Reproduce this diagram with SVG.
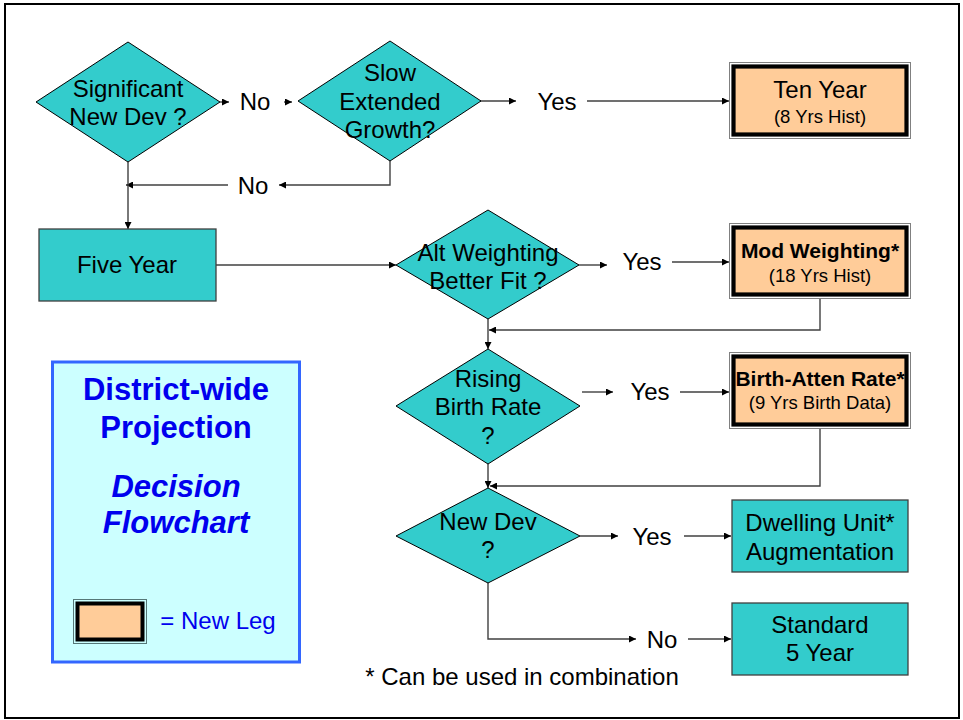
<svg xmlns="http://www.w3.org/2000/svg" width="963" height="720" viewBox="0 0 963 720">
<defs>
<marker id="ah" viewBox="0 0 10 10" refX="10" refY="5" markerWidth="8" markerHeight="7" markerUnits="userSpaceOnUse" orient="auto">
<path d="M0,0 L10,5 L0,10 Z" fill="#000"/>
</marker>
<style>
text{font-family:"Liberation Sans",Arial,sans-serif;fill:#000;text-anchor:middle}
.t{font-size:24px}
.b{font-size:21px;font-weight:bold}
.s{font-size:18.5px}
.dia{fill:#33CCCC;stroke:#000;stroke-width:1}
.box{fill:#33CCCC;stroke:#404040;stroke-width:1.3}
.og{fill:none;stroke:#808080;stroke-width:1}
.ob{fill:#FFCC99;stroke:#000;stroke-width:4.2}
.c{fill:none;stroke:#404040;stroke-width:1.4;marker-end:url(#ah)}
.lg{fill:#0000EE;font-size:31px;font-weight:bold}
</style>
</defs>
<rect x="0" y="0" width="963" height="720" fill="#fff"/>
<rect id="frame" x="5" y="4" width="954" height="714" fill="#fff" stroke="#000" stroke-width="2"/>

<g id="connectors">
<path class="c" d="M220,102 L229,102"/>
<path class="c" d="M284,102 L292,102"/>
<path class="c" d="M480,101 L516,101"/>
<path class="c" d="M587,101 L729,101"/>
<path class="c" d="M390,161 L390,185 L279,185"/>
<path class="c" d="M228,185 L126,185"/>
<path class="c" d="M128,162 L128,229"/>
<path class="c" d="M216,265 L396,265"/>
<path class="c" d="M579,265 L607,265"/>
<path class="c" d="M672,262 L729,262"/>
<path class="c" d="M820,299 L820,330 L489,330"/>
<path class="c" d="M488,319 L488,349"/>
<path class="c" d="M582,392 L613,392"/>
<path class="c" d="M680,392 L729,392"/>
<path class="c" d="M820,429 L820,486 L490,486"/>
<path class="c" d="M488,464 L488,488"/>
<path class="c" d="M580,536 L618,536"/>
<path class="c" d="M684,536 L731,536"/>
<path class="c" d="M488,583 L488,639 L636,639"/>
<path class="c" d="M688,639 L731,639"/>
<text class="t" x="255" y="110">No</text>
<text class="t" x="557" y="110">Yes</text>
<text class="t" x="253" y="194">No</text>
<text class="t" x="642" y="270">Yes</text>
<text class="t" x="650" y="400">Yes</text>
<text class="t" x="652" y="545">Yes</text>
<text class="t" x="662" y="648">No</text>
</g>

<g id="d1">
<polygon class="dia" points="36,102 128,42 220,102 128,162"/>
<text class="t" x="128" y="97">Significant</text>
<text class="t" x="128" y="125">New Dev ?</text>
</g>

<g id="d2">
<polygon class="dia" points="298,101 390,41 481,101 390,161"/>
<text class="t" x="390" y="81">Slow</text>
<text class="t" x="390" y="110">Extended</text>
<text class="t" x="390" y="138">Growth?</text>
</g>

<g id="ten">
<rect class="og" x="729.5" y="62.5" width="181" height="76"/>
<rect class="ob" x="733.5" y="66.5" width="173" height="68"/>
<text class="t" x="820" y="98">Ten Year</text>
<text class="s" x="820" y="123">(8 Yrs Hist)</text>
</g>

<g id="five">
<rect class="box" x="39" y="229" width="177" height="72"/>
<text class="t" x="127" y="273">Five Year</text>
</g>

<g id="d3">
<polygon class="dia" points="396,265 488,210 579,265 488,319"/>
<text class="t" x="488" y="261">Alt Weighting</text>
<text class="t" x="488" y="289">Better Fit ?</text>
</g>

<g id="mod">
<rect class="og" x="729.5" y="223.5" width="181" height="75"/>
<rect class="ob" x="733.5" y="227.5" width="173" height="67"/>
<text class="b" x="820" y="258">Mod Weighting*</text>
<text class="s" x="820" y="282">(18 Yrs Hist)</text>
</g>

<g id="d4">
<polygon class="dia" points="396,406 488,349 580,406 488,464"/>
<text class="t" x="488" y="387">Rising</text>
<text class="t" x="488" y="415">Birth Rate</text>
<text class="t" x="488" y="444">?</text>
</g>

<g id="birth">
<rect class="og" x="729.5" y="352.5" width="181" height="76"/>
<rect class="ob" x="733.5" y="356.5" width="173" height="68"/>
<text class="b" x="820" y="386">Birth-Atten Rate*</text>
<text class="s" x="820" y="409">(9 Yrs Birth Data)</text>
</g>

<g id="d5">
<polygon class="dia" points="396,536 488,488 580,536 488,583"/>
<text class="t" x="488" y="530">New Dev</text>
<text class="t" x="488" y="558">?</text>
</g>

<g id="dwelling">
<rect class="box" x="732" y="500" width="176" height="72"/>
<text class="t" x="820" y="531">Dwelling Unit*</text>
<text class="t" x="820" y="560">Augmentation</text>
</g>

<g id="standard">
<rect class="box" x="732" y="603" width="176" height="72"/>
<text class="t" x="820" y="633">Standard</text>
<text class="t" x="820" y="661">5 Year</text>
</g>

<g id="legend">
<rect x="52.5" y="362" width="247" height="300" fill="#CCFFFF" stroke="#3366FF" stroke-width="3"/>
<text class="lg" x="176" y="400">District-wide</text>
<text class="lg" x="176" y="438">Projection</text>
<text class="lg" x="176" y="497" font-style="italic">Decision</text>
<text class="lg" x="176" y="533" font-style="italic">Flowchart</text>
<rect x="73.5" y="599.5" width="73" height="44" fill="none" stroke="#557777" stroke-width="1"/>
<rect x="77.5" y="603.5" width="65" height="36" fill="#FFCC99" stroke="#000" stroke-width="4"/>
<text x="218" y="629" font-size="24" style="fill:#0000EE">= New Leg</text>
</g>

<g id="note">
<text class="t" x="522" y="685">* Can be used in combination</text>
</g>
</svg>
